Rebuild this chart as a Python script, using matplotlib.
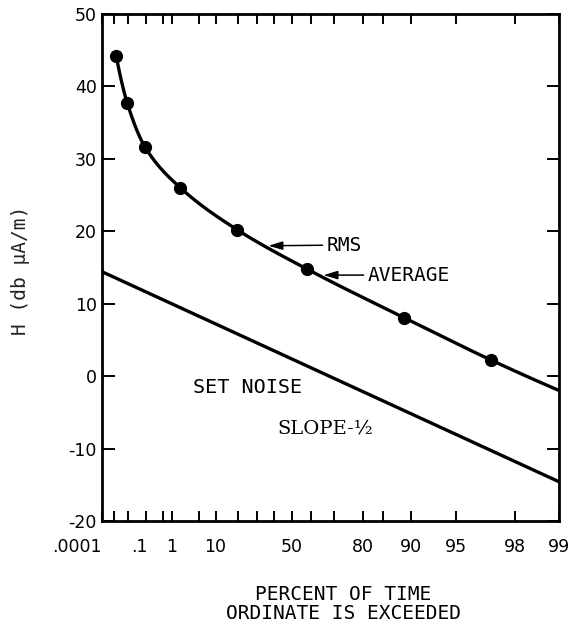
import numpy as np
import matplotlib
matplotlib.use("Agg")
import matplotlib.pyplot as plt
from matplotlib.transforms import ScaledTranslation

plt.rcParams["axes.unicode_minus"] = False

# ---------------- data ----------------
# measured points (percent of time ordinate is exceeded, H in dB uA/m)
meas_pct = [0.0015, 0.009, 0.09, 1.8, 19.5, 58.0, 89.0, 97.1]
meas_val = [44.2, 37.7, 31.6, 26.0, 20.2, 14.8, 8.05, 2.2]
# end of the fitted curve at the right edge
curve_end_pct = 99.0
curve_end_val = -2.0
# set noise line (slope -1/2)
noise_pct = [0.0001, 99.0]
noise_val = [14.4, -14.6]
# arrow targets
rms_pct, rms_val = 36.8, 18.0
avg_pct, avg_val = 65.8, 13.95

xtick_major = [0.0001, 0.1, 1, 10, 50, 80, 90, 95, 98, 99]
xtick_labels = [".0001", ".1", "1", "10", "50", "80", "90", "95", "98", "99"]
xtick_minor = [0.001, 0.01, 0.5, 5, 20, 30, 40, 60, 70, 85]
yticks = [-20, -10, 0, 10, 20, 30, 40, 50]


# ---------------- Rayleigh probability scale ----------------
def fwd(p):
    p = np.asarray(p, dtype=float)
    with np.errstate(all="ignore"):
        q = np.clip(p / 100.0, 1e-300, 1 - 1e-15)
        return -np.log10(-np.log(q))


def inv(u):
    u = np.asarray(u, dtype=float)
    with np.errstate(all="ignore"):
        return 100.0 * np.exp(-np.power(10.0, -u))


def pchip(x, y, xn):
    x = np.asarray(x, float); y = np.asarray(y, float)
    n = len(x)
    h = np.diff(x); d = np.diff(y) / h
    m = np.zeros(n)
    for k in range(1, n - 1):
        if d[k - 1] * d[k] > 0:
            w1 = 2 * h[k] + h[k - 1]
            w2 = h[k] + 2 * h[k - 1]
            m[k] = (w1 + w2) / (w1 / d[k - 1] + w2 / d[k])
    m0 = ((2 * h[0] + h[1]) * d[0] - h[0] * d[1]) / (h[0] + h[1])
    if np.sign(m0) != np.sign(d[0]):
        m0 = 0
    m[0] = m0
    me = ((2 * h[-1] + h[-2]) * d[-1] - h[-1] * d[-2]) / (h[-1] + h[-2])
    if np.sign(me) != np.sign(d[-1]):
        me = 0
    m[-1] = me
    out = np.empty_like(xn)
    idx = np.clip(np.searchsorted(x, xn) - 1, 0, n - 2)
    for i, xv in enumerate(xn):
        k = idx[i]
        t = (xv - x[k]) / h[k]
        h00 = 2 * t**3 - 3 * t**2 + 1
        h10 = t**3 - 2 * t**2 + t
        h01 = -2 * t**3 + 3 * t**2
        h11 = t**3 - t**2
        out[i] = h00 * y[k] + h10 * h[k] * m[k] + h01 * y[k + 1] + h11 * h[k] * m[k + 1]
    return out


fig = plt.figure(figsize=(5.71, 6.30), dpi=100)
ax = fig.add_axes([102.3 / 571, 1 - 521 / 630, 457 / 571, 507 / 630])
ax.set_xscale("function", functions=(fwd, inv))
ax.set_xlim(0.0001, 99)
ax.set_ylim(-20, 50)

# smooth curve through the measured points (drawn in scale space)
cu = fwd(meas_pct + [curve_end_pct])
cv = np.array(meas_val + [curve_end_val])
uu = np.linspace(cu[0], cu[-1], 400)
ax.plot(inv(uu), pchip(cu, cv, uu), color="black", lw=2.4, solid_capstyle="butt")
ax.plot(meas_pct, meas_val, "o", color="black", ms=8.5)

ax.plot(noise_pct, noise_val, color="black", lw=2.4)

mono = "DejaVu Sans Mono"
arrow = dict(arrowstyle="-|>,head_length=0.6,head_width=0.18", color="black", lw=1.1,
             shrinkA=1, shrinkB=0, relpos=(0, 0.5))
ax.annotate("RMS", xy=(rms_pct, rms_val), xytext=(0.491, 0.544), textcoords="axes fraction",
            ha="left", va="center", fontsize=14, family=mono, arrowprops=arrow)
ax.annotate("AVERAGE", xy=(avg_pct, avg_val), xytext=(0.581, 0.485), textcoords="axes fraction",
            ha="left", va="center", fontsize=14, family=mono, arrowprops=arrow)

ax.text(0.199, 0.264, "SET NOISE", transform=ax.transAxes, ha="left", va="center",
        fontsize=14.5, family=mono)
ax.text(0.384, 0.183, "SLOPE-½", transform=ax.transAxes, ha="left", va="center",
        fontsize=14, family="DejaVu Serif")

# ticks
ax.set_xticks(xtick_major)
ax.set_xticklabels(xtick_labels)
ax.set_xticks(xtick_minor, minor=True)
ax.set_yticks(yticks)
ax.tick_params(axis="x", which="both", direction="in", length=7, width=1.4,
               top=True, bottom=True, pad=12, labelsize=12.5)
ax.tick_params(axis="y", which="both", direction="in", length=9, width=1.4,
               left=True, right=True, pad=4, labelsize=12.5)
for s in ax.spines.values():
    s.set_linewidth(2.0)

ticks = ax.xaxis.get_major_ticks()
ticks[0].label1.set_transform(ticks[0].label1.get_transform() +
                              ScaledTranslation(-0.25, 0, fig.dpi_scale_trans))
ticks[1].label1.set_transform(ticks[1].label1.get_transform() +
                              ScaledTranslation(-0.07, 0, fig.dpi_scale_trans))

ax.set_xlabel("PERCENT OF TIME\nORDINATE IS EXCEEDED", fontsize=14, family=mono,
              linespacing=1.0)
ax.xaxis.set_label_coords(0.527, -0.163)
ax.xaxis.label.set_va("center")
ax.set_ylabel("H (db μA/m)", fontsize=14, family=mono, color="#222222")
ax.yaxis.set_label_coords(-0.18, 0.495)
ax.yaxis.label.set_va("center")

fig.savefig("out.png", dpi=100)
